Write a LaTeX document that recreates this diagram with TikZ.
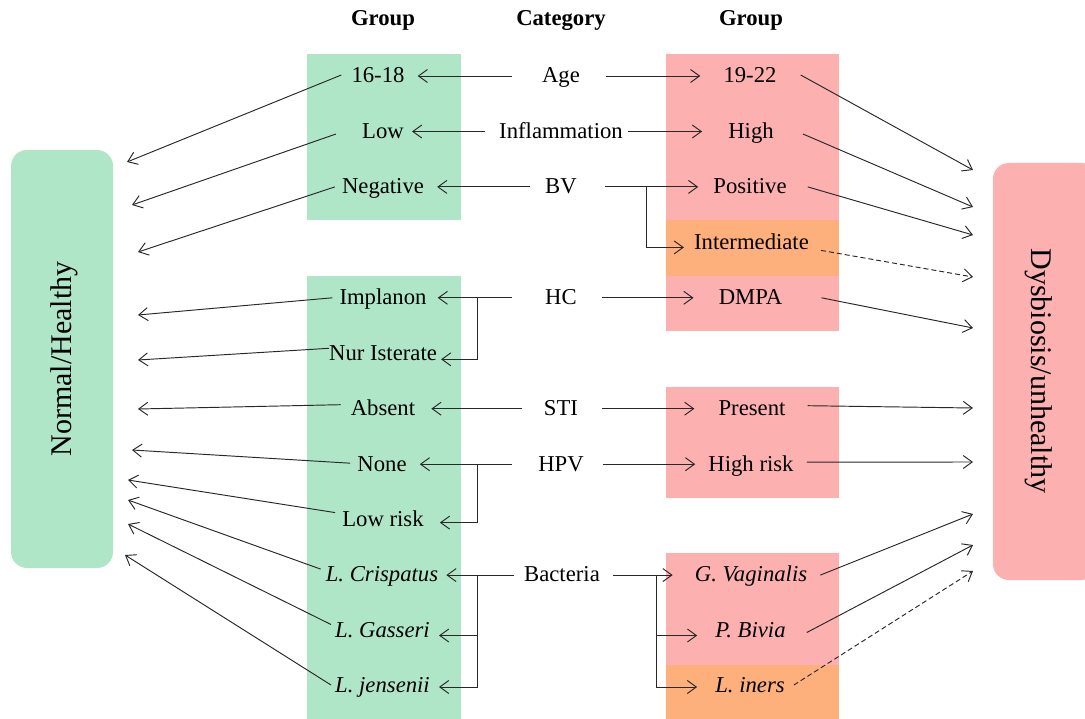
\documentclass[tikz,border=0pt]{standalone}
\usepackage{fontspec}
\setmainfont{Liberation Serif}
\usetikzlibrary{arrows.meta,calc}
\definecolor{mint}{RGB}{176,230,200}
\definecolor{rose}{RGB}{253,176,176}
\definecolor{peach}{RGB}{253,176,124}
\definecolor{ink}{RGB}{40,40,40}
\begin{document}
\begin{tikzpicture}[x=1pt,y=-1pt,
  txt/.style={inner sep=0pt,text height=16.3pt,text depth=2.7pt,font=\fontsize{22.7pt}{27pt}\selectfont,text=black},
  hdr/.style={inner sep=0pt,font=\fontsize{22.7pt}{27pt}\selectfont\bfseries},
  big/.style={inner sep=0pt,font=\fontsize{30pt}{36pt}\selectfont},
  arr/.style={draw=ink,line width=0.95pt,-{Straight Barb[length=9pt,width=13pt]}},
  dsh/.style={arr,dashed,dash pattern=on 5pt off 3pt}]
\useasboundingbox (0,0) rectangle (1085,719);
\begin{scope}
\clip (0,0) rectangle (1085,719);
% background blocks
\fill[mint] (307,54) rectangle (461,220);
\fill[mint] (307,276) rectangle (461,725);
\fill[rose] (666,54) rectangle (839,220);
\fill[peach] (666,220) rectangle (839,276);
\fill[rose] (666,276) rectangle (839,331);
\fill[rose] (666,387) rectangle (839,498);
\fill[rose] (666,553) rectangle (839,665);
\fill[peach] (666,665) rectangle (839,725);
\fill[mint,rounded corners=16pt] (11,150) rectangle (113,568);
\fill[rose,rounded corners=16pt] (993,163) rectangle (1097,580);
\end{scope}
\node[big,rotate=90] (nh) at (64,359) {Normal/Healthy};
\node[big,rotate=-90] (dy) at (1039,371) {Dysbiosis/unhealthy};
% headers
\node[hdr] (h1) at (383,20) {Group};
\node[hdr] (h2) at (561,20) {Category};
\node[hdr] (h3) at (751,20) {Group};
% categories
\node[txt] (age) at (561,76) {Age};
\node[txt] (inf) at (561,131.5) {Inflammation};
\node[txt] (bv)  at (561,186.9) {BV};
\node[txt] (hc)  at (561,297.8) {HC};
\node[txt] (sti) at (561,408.7) {STI};
\node[txt] (hpv) at (561,464.2) {HPV};
\node[txt] (bac) at (562,575.1) {Bacteria};
% left group
\node[txt] (a1) at (378,76) {16-18};
\node[txt] (a2) at (383,131.5) {Low};
\node[txt] (a3) at (383,186.9) {Negative};
\node[txt] (a4) at (383,297.8) {Implanon};
\node[txt] (a5) at (383,353.3) {Nur Isterate};
\node[txt] (a6) at (383,408.7) {Absent};
\node[txt] (a7) at (382,464.2) {None};
\node[txt] (a8) at (383,519.6) {Low risk};
\node[txt] (a9) at (382,575.1) {\itshape L. Crispatus};
\node[txt] (a10) at (382.5,630.5) {\itshape L. Gasseri};
\node[txt] (a11) at (382.5,686) {\itshape L. jensenii};
% right group
\node[txt] (b1) at (750,76) {19-22};
\node[txt] (b2) at (751,131.5) {High};
\node[txt] (b3) at (750,186.9) {Positive};
\node[txt] (b4) at (751.5,242.4) {Intermediate};
\node[txt] (b5) at (750.5,297.8) {DMPA};
\node[txt] (b6) at (752,408.7) {Present};
\node[txt] (b7) at (751,464.2) {High risk};
\node[txt] (b8) at (751,575.1) {\itshape G. Vaginalis};
\node[txt] (b9) at (750.5,630.5) {\itshape P. Bivia};
\node[txt] (b10) at (750,686) {\itshape L. iners};
% bracket columns
\coordinate (bl) at (477,0);
\coordinate (br1) at (646,0);
\coordinate (br2) at (656,0);
% category -> groups
\draw[arr] ([xshift=-30pt]age.west) -- ([xshift=13pt]a1.east);
\draw[arr] ([xshift=26pt]age.east) -- ([xshift=-23pt]b1.west);
\draw[arr] ([xshift=-14pt]inf.west) -- ([xshift=8pt]a2.east);
\draw[arr] ([xshift=5pt]inf.east) -- ([xshift=-26pt]b2.west);
\draw[arr] ([xshift=-15pt]bv.west) -- ([xshift=13pt]a3.east);
\draw[arr] ([xshift=28pt]bv.east) -- ([xshift=-15pt]b3.west);
\draw[arr] (bv.east -| br1) |- ([xshift=-10pt,yshift=-5pt]b4.west);
\draw[arr] ([xshift=-33pt]hc.west) -- ([xshift=11pt]a4.east);
\draw[arr] (hc.west -| bl) |- ([xshift=4pt,yshift=-6pt]a5.east);
\draw[arr] ([xshift=25pt]hc.east) -- ([xshift=-25pt]b5.west);
\draw[arr] ([xshift=-22pt]sti.west) -- ([xshift=16pt]a6.east);
\draw[arr] ([xshift=24pt]sti.east) -- ([xshift=-24pt]b6.west);
\draw[arr] ([xshift=-26pt]hpv.west) -- ([xshift=13pt]a7.east);
\draw[arr] (hpv.west -| bl) |- ([xshift=16pt,yshift=-3pt]a8.east);
\draw[arr] ([xshift=19pt]hpv.east) -- ([xshift=-13pt]b7.west);
\draw[arr] ([xshift=-10pt]bac.west) -- ([xshift=8pt]a9.east);
\draw[arr] (bac.west -| bl) |- ([xshift=9pt,yshift=-5pt]a10.east);
\draw[arr] (bac.west -| bl) |- ([xshift=9pt,yshift=-1pt]a11.east);
\draw[arr] ([xshift=13pt]bac.east) -- ([xshift=-22pt]b8.west);
\draw[arr] (bac.east -| br2) |- ([xshift=-18pt,yshift=-5pt]b9.west);
\draw[arr] (bac.east -| br2) |- ([xshift=-18pt,yshift=-1pt]b10.west);
% tips near Normal/Healthy
\coordinate (n1) at (127,162);
\coordinate (n2) at (132,205);
\coordinate (n3) at (138,252);
\coordinate (n4) at (138,315);
\coordinate (n5) at (138,360);
\coordinate (n6) at (138,409);
\coordinate (n7) at (132,450);
\coordinate (n8) at (128,480);
\coordinate (n9) at (128,500);
\coordinate (n10) at (128,524);
\coordinate (n11) at (125,555);
\draw[arr] ([xshift=-10pt,yshift=1pt]a1.west) -- (n1);
\draw[arr] ([xshift=-26pt,yshift=-2.5pt]a2.west) -- (n2);
\draw[arr] ([xshift=-7pt]a3.west) -- (n3);
\draw[arr] ([xshift=-7pt]a4.west) -- (n4);
\draw[arr] ([xshift=0pt,yshift=5pt]a5.west) -- (n5);
\draw[arr] ([xshift=-10pt,yshift=4pt]a6.west) -- (n6);
\draw[arr] ([xshift=-7pt,yshift=1pt]a7.west) -- (n7);
\draw[arr] ([xshift=-7pt,yshift=7pt]a8.west) -- (n8);
\draw[arr] ([xshift=-5pt,yshift=6pt]a9.west) -- (n9);
\draw[arr] ([xshift=-4pt,yshift=6pt]a10.west) -- (n10);
\draw[arr] ([xshift=-4pt,yshift=1pt]a11.west) -- (n11);
% tips near Dysbiosis
\coordinate (d1) at (973,170);
\coordinate (d2) at (973,207);
\coordinate (d3) at (973,235);
\coordinate (d4) at (973,277);
\coordinate (d5) at (973,328);
\coordinate (d6) at (973,408);
\coordinate (d7) at (973,462);
\coordinate (d8) at (973,514);
\coordinate (d9) at (973,545);
\coordinate (d10) at (973,571);
\draw[arr] ([xshift=24pt,yshift=1pt]b1.east) -- (d1);
\draw[arr] ([xshift=29pt,yshift=-2.5pt]b2.east) -- (d2);
\draw[arr] ([xshift=21pt]b3.east) -- (d3);
\draw[dsh] ([xshift=12pt,yshift=-8pt]b4.east) -- (d4);
\draw[arr] ([xshift=39pt]b5.east) -- (d5);
\draw[arr] ([xshift=22pt,yshift=3pt]b6.east) -- (d6);
\draw[arr] ([xshift=13pt,yshift=2pt]b7.east) -- (d7);
\draw[arr] ([xshift=13pt]b8.east) -- (d8);
\draw[arr] ([xshift=21pt,yshift=-2pt]b9.east) -- (d9);
\draw[dsh] ([xshift=9pt,yshift=1pt]b10.east) -- (d10);
\end{tikzpicture}
\end{document}
